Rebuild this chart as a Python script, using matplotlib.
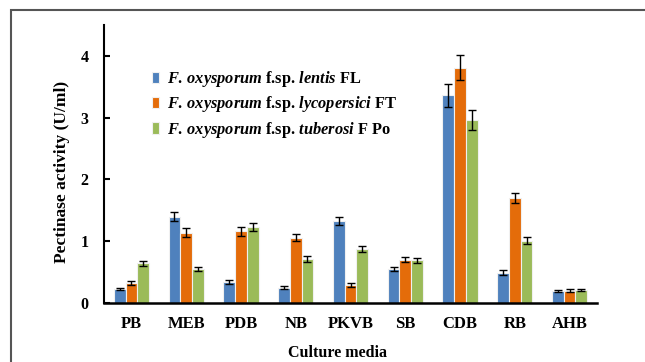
import matplotlib
matplotlib.use("Agg")
import matplotlib.pyplot as plt
import numpy as np
from matplotlib.patches import Rectangle

categories = ["PB", "MEB", "PDB", "NB", "PKVB", "SB", "CDB", "RB", "AHB"]
series_names = [
    r"$\mathit{F.\,oxysporum}$ f.sp. $\mathit{lentis}$ FL",
    r"$\mathit{F.\,oxysporum}$ f.sp. $\mathit{lycopersici}$ FT",
    r"$\mathit{F.\,oxysporum}$ f.sp. $\mathit{tuberosi}$ F Po",
]
fl_values = [0.23, 1.40, 0.34, 0.25, 1.33, 0.55, 3.36, 0.49, 0.19]
ft_values = [0.32, 1.14, 1.16, 1.06, 0.29, 0.70, 3.81, 1.70, 0.20]
fpo_values = [0.64, 0.55, 1.23, 0.71, 0.87, 0.69, 2.96, 1.01, 0.21]
fl_err = [0.02, 0.08, 0.03, 0.02, 0.07, 0.04, 0.19, 0.04, 0.02]
ft_err = [0.03, 0.07, 0.07, 0.06, 0.03, 0.04, 0.20, 0.08, 0.03]
fpo_err = [0.04, 0.04, 0.07, 0.05, 0.05, 0.04, 0.16, 0.06, 0.02]
colors = ["#4F81BD", "#E46C0A", "#9BBB59"]

plt.rcParams["font.family"] = ["Liberation Serif", "DejaVu Serif"]
plt.rcParams["font.weight"] = "bold"
plt.rcParams["mathtext.fontset"] = "custom"
plt.rcParams["mathtext.rm"] = "Liberation Serif:bold"
plt.rcParams["mathtext.it"] = "Liberation Serif:italic:bold"
plt.rcParams["mathtext.bf"] = "Liberation Serif:bold"

fig = plt.figure(figsize=(6.45, 3.62), dpi=100)
ax = fig.add_axes([104/645, (362-303)/362, (597-104)/645, (303-25)/362])

x = np.arange(len(categories))
w = 0.215
data = [(fl_values, fl_err), (ft_values, ft_err), (fpo_values, fpo_err)]
for i, (vals, errs) in enumerate(data):
    ax.bar(x + (i - 1) * w, vals, width=w, color=colors[i], edgecolor="#f0f0f0",
           linewidth=0.8, label=series_names[i], zorder=2,
           yerr=errs, error_kw=dict(ecolor="black", elinewidth=1, capsize=3, capthick=1))

ax.set_xlim(-0.5, len(categories) - 0.5)
ax.set_ylim(0, 4.5)
ax.set_yticks([0, 1, 2, 3, 4])
ax.set_xticks(x)
ax.set_xticklabels(categories, fontsize=12, fontweight="bold")
ax.tick_params(axis="x", length=0, pad=9)
ax.tick_params(axis="y", direction="in", length=4, width=1.5, labelsize=11.5, pad=11)
for lab in ax.get_yticklabels():
    lab.set_fontweight("bold")
for s in ["top", "right"]:
    ax.spines[s].set_visible(False)
ax.spines["left"].set_linewidth(1.5)
ax.spines["bottom"].set_linewidth(1.8)

ax.set_ylabel("Pectinase activity (U/ml)", fontsize=12.5, fontweight="bold")
ax.yaxis.set_label_coords((70 - 104) / 493, (303 - 172) / 278)
ax.set_xlabel("Culture media", fontsize=11.5, fontweight="bold")
ax.xaxis.set_label_coords((337 - 104) / 493, -(345 - 303) / 278)

leg = ax.legend(loc="upper left", bbox_to_anchor=(0.085, 0.865), frameon=False,
                fontsize=11.8, handlelength=0.4, handleheight=0.7, handletextpad=0.5,
                labelspacing=0.32, borderaxespad=0)

fig.patches.append(Rectangle((11/645, -0.1), 1.2, (362-10)/362 + 0.1, transform=fig.transFigure,
                             fill=False, edgecolor="#555555", linewidth=1.5))

fig.savefig("out.png", dpi=100)
